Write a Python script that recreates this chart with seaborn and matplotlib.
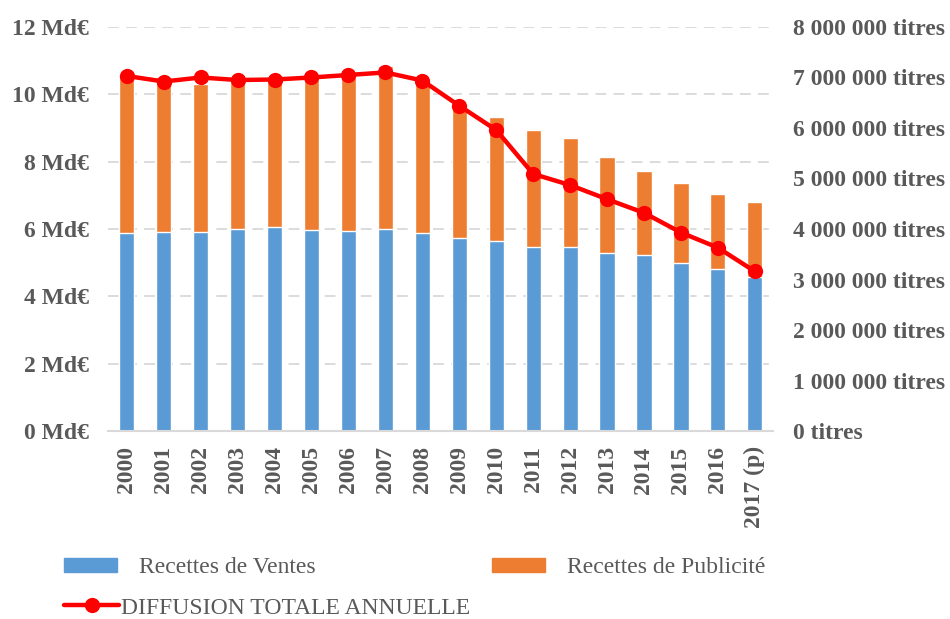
import numpy as np
import pandas as pd
import matplotlib
matplotlib.use('Agg')
import matplotlib.pyplot as plt
from matplotlib.patches import Patch
from matplotlib.lines import Line2D
import seaborn as sns

# Data
years = ['2000', '2001', '2002', '2003', '2004', '2005', '2006', '2007', '2008',
         '2009', '2010', '2011', '2012', '2013', '2014', '2015', '2016', '2017 (p)']
ventes = [5.87, 5.92, 5.92, 5.99, 6.05, 5.98, 5.95, 6.01, 5.87,
          5.73, 5.65, 5.46, 5.46, 5.28, 5.22, 4.98, 4.80, 4.58]      # Md€
publicite = [4.68, 4.58, 4.39, 4.46, 4.40, 4.57, 4.63, 4.83, 4.53,
             3.87, 3.69, 3.48, 3.25, 2.87, 2.51, 2.38, 2.23, 2.22]   # Md€
diffusion = [7.03, 6.92, 7.00, 6.95, 6.96, 7.00, 7.05, 7.10, 6.94,
             6.44, 5.96, 5.09, 4.87, 4.59, 4.32, 3.93, 3.63, 3.16]   # millions de titres

left_ticks = [0, 2, 4, 6, 8, 10, 12]
right_ticks = [0, 1, 2, 3, 4, 5, 6, 7, 8]

BLUE = '#5b9bd5'
ORANGE = '#ed7d31'
RED = '#ff0000'
GREY = '#595959'
GRID = '#d9d9d9'

df = pd.DataFrame({'annee': years, 'ventes': ventes, 'publicite': publicite,
                   'diffusion': np.array(diffusion) * 1e6})
df['total'] = df['ventes'] + df['publicite']

sns.set_theme(style='white')
plt.rcParams['font.family'] = ['Liberation Serif', 'DejaVu Serif']

fig = plt.figure(figsize=(9.5, 6.19), dpi=100)
ax = fig.add_axes([0.114, 0.3037, 0.7, 0.6527])

# stacked bars: total (orange) then ventes (blue) drawn over it
sns.barplot(data=df, x='annee', y='total', color=ORANGE, saturation=1,
            width=0.41, ax=ax, zorder=2)
sns.barplot(data=df, x='annee', y='ventes', color=BLUE, saturation=1,
            width=0.41, ax=ax, zorder=3)

ax.set_ylim(0, 12)
ax.set_xlim(-0.5, len(years) - 0.5)
ax.set_yticks(left_ticks)
ax.set_yticklabels([f'{t} Md€' for t in left_ticks], fontsize=17,
                   fontweight='bold', color=GREY)
ax.set_xticks(range(len(years)))
ax.set_xticklabels(years, rotation=90, fontsize=17, fontweight='bold', color=GREY)
ax.set_xlabel('')
ax.set_ylabel('')
ax.tick_params(axis='both', length=0)
ax.tick_params(axis='y', pad=14)
ax.tick_params(axis='x', pad=11)
ax.yaxis.grid(True, color=GRID, linewidth=1.3, linestyle=(0, (6, 4)))
ax.set_axisbelow(True)
for s in ['top', 'left', 'right']:
    ax.spines[s].set_visible(False)
ax.spines['bottom'].set_color(GRID)
ax.spines['bottom'].set_linewidth(1.5)
ax.spines['bottom'].set_zorder(4)

# diffusion on the secondary axis
ax2 = ax.twinx()
sns.lineplot(x=np.arange(len(years)), y=df['diffusion'], ax=ax2, color=RED,
             linewidth=3.2, marker='o', markersize=11, markeredgewidth=0)
ax2.set_ylim(0, 8e6)
ax2.set_xlim(-0.5, len(years) - 0.5)
ax2.set_yticks([t * 1e6 for t in right_ticks])
ax2.set_yticklabels(['0 titres' if t == 0 else f'{t} 000 000 titres' for t in right_ticks],
                    fontsize=17, fontweight='bold', color=GREY)
ax2.set_ylabel('')
ax2.tick_params(axis='y', length=0, pad=14)
for s in ax2.spines.values():
    s.set_visible(False)

# legend
bar_handles = [Patch(color=BLUE), Patch(color=ORANGE)]
leg1 = fig.legend(bar_handles, ['Recettes de Ventes', 'Recettes de Publicité'],
                  loc='center left', bbox_to_anchor=(0.0674, 0.0824), ncol=2,
                  frameon=False, fontsize=17, handlelength=2.25, handleheight=0.55,
                  handletextpad=0.93, columnspacing=7.45, borderpad=0, borderaxespad=0)
for t in leg1.get_texts():
    t.set_color(GREY)
line_handle = [Line2D([0], [0], color=RED, linewidth=3.2, marker='o',
                      markersize=11, markeredgewidth=0)]
leg2 = fig.legend(line_handle, ['DIFFUSION TOTALE ANNUELLE'],
                  loc='center left', bbox_to_anchor=(0.0674, 0.0178),
                  frameon=False, fontsize=17, handlelength=2.33,
                  handletextpad=0.1, borderpad=0, borderaxespad=0)
for t in leg2.get_texts():
    t.set_color(GREY)

fig.savefig('out.png', dpi=100)
